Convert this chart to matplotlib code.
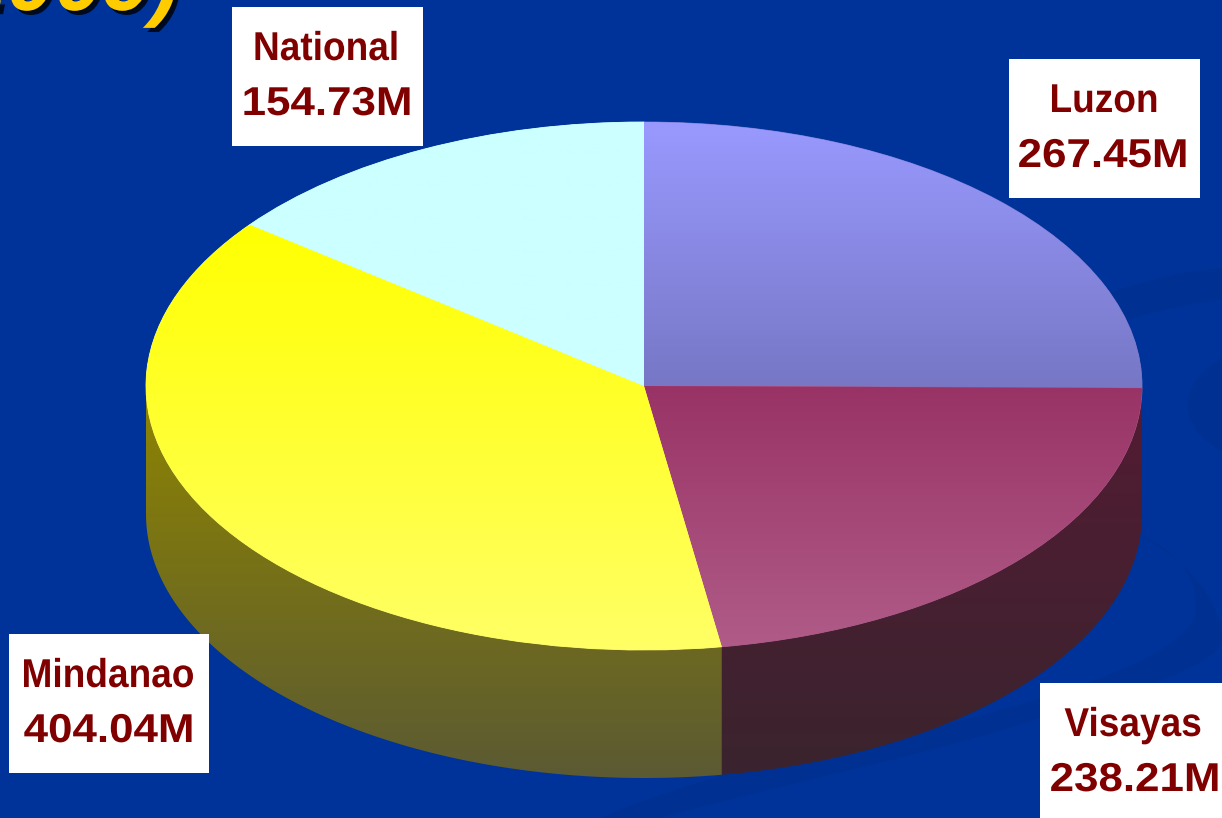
import numpy as np
import matplotlib
matplotlib.use("Agg")
import matplotlib.pyplot as plt
import matplotlib.patheffects as pe
from matplotlib.colors import LinearSegmentedColormap
from matplotlib.patches import PathPatch, Polygon, Rectangle, Ellipse
from matplotlib.path import Path
from matplotlib.transforms import Affine2D

regions = ["Luzon", "Visayas", "Mindanao", "National"]
budget = [267.45, 238.21, 404.04, 154.73]

BG = "#003399"
SWIRL = "#003192"
LABEL = "#800000"

plt.rcParams["font.family"] = ["Liberation Sans", "DejaVu Sans"]

W, H = 1222, 818
fig = plt.figure(figsize=(W / 100, H / 100), dpi=100, facecolor=BG)


# the labels in the picture are tracked out, matplotlib has no letter spacing
class StretchX(pe.AbstractPathEffect):
    def __init__(self, cx, sx):
        super().__init__()
        self.cx, self.sx = cx, sx

    def draw_path(self, renderer, gc, tpath, affine, rgbFace=None):
        extra = Affine2D().translate(-self.cx, 0).scale(self.sx, 1).translate(self.cx, 0)
        renderer.draw_path(gc, tpath, affine + extra, rgbFace)


# background in pixel coordinates
bg = fig.add_axes([0, 0, 1, 1], zorder=0)
bg.set_xlim(0, W)
bg.set_ylim(H, 0)
bg.axis("off")

# faint swirls behind the pie
M, C, L = Path.MOVETO, Path.CURVE4, Path.LINETO
band = Path(
    [(1130, 530), (1180, 550), (1200, 580), (1195, 615),
     (1180, 660), (1050, 700), (900, 735),
     (800, 755), (700, 775), (600, 818), (660, 818),
     (800, 780), (950, 750), (1050, 715),
     (1150, 690), (1222, 660), (1222, 640),
     (1222, 590), (1170, 550), (1130, 530)],
    [M, C, C, C, C, C, C, C, C, C, L, C, C, C, C, C, C, C, C, C],
)
bg.add_patch(PathPatch(band, fc=SWIRL, ec="none"))
bg.add_patch(Ellipse((1300, 405), 225, 130, fc=SWIRL, ec="none"))
top_band = Path(
    [(1090, 300), (1140, 280), (1190, 270), (1222, 268), (1222, 300), (1180, 305), (1140, 315), (1115, 325)],
    [M, C, C, C, L, C, C, C],
)
bg.add_patch(PathPatch(top_band, fc=SWIRL, ec="none"))

# end of the slide title, cut off by the top edge
bg.text(179, 10, "2009)", color="#FFCC00", fontsize=62, fontweight="bold", fontstyle="italic",
        ha="right", va="baseline",
        path_effects=[pe.withSimplePatchShadow(offset=(3, -3), shadow_rgbFace="black", alpha=0.8)])

# pie axes: ellipse top plus room for the side wall
left, right, top, bottom = 146, 1142, 122, 650
depth = 128
ry_px = (bottom - top) / 2
pie_ax = fig.add_axes([left / W, 1 - (bottom + depth) / H, (right - left) / W, (bottom + depth - top) / H], zorder=1)
wedges, _ = pie_ax.pie(budget, startangle=90, counterclock=False, radius=1)
ylow = -1 - depth / ry_px
pie_ax.set_aspect("auto")
pie_ax.set_xlim(-1, 1)
pie_ax.set_ylim(ylow, 1)
pie_ax.set_axis_off()
d = depth / ry_px

top_cols = [("#9999FF", "#7777C6"), ("#993366", "#B05C88"), ("#FFFF00", "#FFFF66"), ("#CCFFFF", "#CCFFFF")]
side_cols = [None, ("#541B33", "#3A242E"), ("#8F8500", "#5B5A33"), None]
# y range in pie units that each top gradient runs over
top_rng = [(1, 0), (0, -1), (0.62, -1), (1, 0)]


def grad(c0, c1, y0, y1, clip):
    cmap = LinearSegmentedColormap.from_list("g", [c0, c1])
    im = pie_ax.imshow(np.linspace(0, 1, 256).reshape(-1, 1), cmap=cmap, aspect="auto",
                       extent=(-1, 1, y1, y0), origin="upper", zorder=2)
    im.set_clip_path(clip)
    return im


# side walls first
for w, cols in zip(wedges, side_cols):
    if cols is None:
        continue
    # wedge angles come from the pie, keep the part in the lower half
    a0 = (w.theta1 % 360)
    a1 = (w.theta2 % 360)
    lo, hi = max(min(a0, a1), 180), max(a0, a1)
    if a1 < a0:  # crosses 0 degrees
        lo, hi = a0, a1 + 360
    if hi > 360:
        hi = 360
    if lo < 180:
        lo = 180
    t = np.radians(np.linspace(lo, hi, 200))
    up = np.column_stack([np.cos(t), np.sin(t)])
    dn = up[::-1] - [0, d]
    poly = Polygon(np.vstack([up, dn]), closed=True, fc="none", ec="none", transform=pie_ax.transData)
    pie_ax.add_patch(poly)
    grad(cols[0], cols[1], up[:, 1].max(), ylow, poly)

# top faces, the wedge underneath closes the hairline gaps of the clipped images
for w, cols, rng in zip(wedges, top_cols, top_rng):
    w.set_facecolor(cols[1])
    w.set_edgecolor(cols[1])
    w.set_linewidth(0.6)
    w.set_zorder(2.5)
    im = grad(cols[0], cols[1], rng[0], rng[1], w)
    im.set_zorder(3)

pie_ax.set_xlim(-1, 1)
pie_ax.set_ylim(ylow, 1)

# labels
fg = fig.add_axes([0, 0, 1, 1], zorder=2)
fg.set_xlim(0, W)
fg.set_ylim(H, 0)
fg.axis("off")
fg.patch.set_alpha(0)

boxes = [(1009, 59, 191, 139), (1040, 683, 190, 140), (9, 634, 200, 139), (232, 7, 191, 139)]
name_x = [1104, 1133, 108, 326]
val_x = [1103, 1135, 109, 327]
for name, val, b, nx, vx in zip(regions, budget, boxes, name_x, val_x):
    fg.add_patch(Rectangle((b[0], b[1]), b[2], b[3], fc="white", ec="none"))
    fg.text(nx, b[1] + 53, name, color=LABEL, fontsize=29, fontweight="bold", ha="center", va="baseline",
            path_effects=[StretchX(nx, 0.92)])
    fg.text(vx, b[1] + 108, f"{val:.2f}M", color=LABEL, fontsize=29, fontweight="bold", ha="center", va="baseline",
            path_effects=[StretchX(vx, 1.09)])

fig.savefig("out.png", dpi=100, facecolor=BG)
